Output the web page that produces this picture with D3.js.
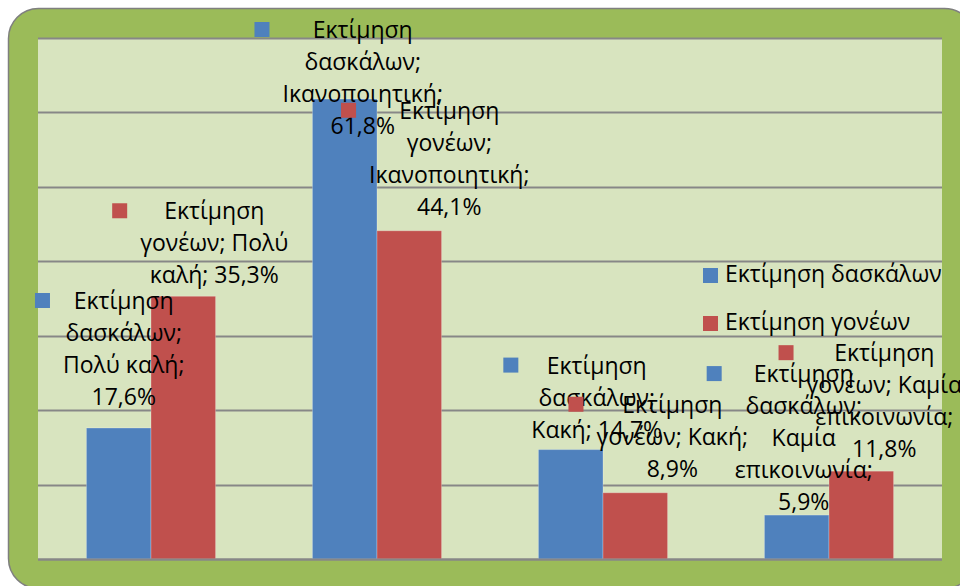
<!DOCTYPE html>
<html lang="el">
<head>
<meta charset="utf-8">
<script src="https://cdnjs.cloudflare.com/ajax/libs/d3/7.8.5/d3.min.js"></script>
<style>
  body { margin: 0; background: #fff; }
  svg text { font-family: "Open Sans", "DejaVu Sans", sans-serif; fill: #000; }
</style>
</head>
<body>
<svg width="960" height="586"></svg>
<script>
// data
var categories = ["Πολύ καλή", "Ικανοποιητική", "Κακή", "Καμία επικοινωνία"];
var seriesNames = ["Εκτίμηση δασκάλων", "Εκτίμηση γονέων"];
var teachers = [17.6, 61.8, 14.7, 5.9];
var parents = [35.3, 44.1, 8.9, 11.8];
var yTicks = [0, 10, 20, 30, 40, 50, 60, 70];

var colors = ["#4f81bd", "#c0504d"];

// label nudges (px), Excel had them dragged a bit
var labelDx = [[5, 18, 26, 7], [31, 40, 37, 23]];
var labelGap = [[23, 14, 12, 5], [13, 16, 16, 14]];

var svg = d3.select("svg");
var plot = { left: 38, top: 38, right: 942, bottom: 559 };
var lineH = 32;
var fs = 23;

// frame (runs a bit past the right/bottom edge of the page)
svg.append("rect")
    .attr("x", 8.5).attr("y", 8.5)
    .attr("width", 966).attr("height", 580)
    .attr("rx", 30).attr("ry", 30)
    .attr("fill", "#9bbb59")
    .attr("stroke", "#7f7f7f")
    .attr("stroke-width", 1.5);

svg.append("rect")
    .attr("x", plot.left).attr("y", plot.top)
    .attr("width", plot.right - plot.left).attr("height", plot.bottom - plot.top)
    .attr("fill", "#d8e4bf");

var x = d3.scaleBand().domain(categories).range([plot.left, plot.right]).padding(0);
var y = d3.scaleLinear().domain([0, 70]).range([plot.bottom, plot.top]);
var barW = x.bandwidth() / 3.5;

// gridlines
svg.append("g").selectAll("line")
    .data(yTicks)
    .join("line")
    .attr("x1", plot.left).attr("x2", plot.right)
    .attr("y1", function (d) { return Math.round(y(d)) + 0.5; })
    .attr("y2", function (d) { return Math.round(y(d)) + 0.5; })
    .attr("stroke", "#878787")
    .attr("stroke-width", 2);

var series = [teachers, parents];
var bars = [];
series.forEach(function (vals, s) {
    vals.forEach(function (v, i) {
        bars.push({ s: s, i: i, v: v, cat: categories[i] });
    });
});

function barX(d) {
    return x(d.cat) + x.bandwidth() / 2 - barW + d.s * barW;
}

svg.append("g").selectAll("rect")
    .data(bars)
    .join("rect")
    .attr("x", barX)
    .attr("y", function (d) { return y(d.v); })
    .attr("width", barW)
    .attr("height", function (d) { return y(0) - y(d.v); })
    .attr("fill", function (d) { return colors[d.s]; })
    .attr("stroke", "#ffffff")
    .attr("stroke-opacity", 0.25)
    .attr("stroke-width", 1);

// bottom axis line again over bars
svg.append("line")
    .attr("x1", plot.left).attr("x2", plot.right)
    .attr("y1", Math.round(y(0)) + 0.5).attr("y2", Math.round(y(0)) + 0.5)
    .attr("stroke", "#878787").attr("stroke-width", 2);

// data labels
var fmt = function (v) { return d3.format(".1f")(v).replace(".", ",") + "%"; };
var maxLine = 166;
var measure = svg.append("text").attr("font-size", fs).attr("visibility", "hidden");
function textW(str) { measure.text(str); return measure.node().getComputedTextLength(); }

function wrap(str) {
    var words = str.split(" "), lines = [], cur = "";
    words.forEach(function (w) {
        var t = cur ? cur + " " + w : w;
        if (cur && textW(t) > maxLine) { lines.push(cur); cur = w; }
        else cur = t;
    });
    lines.push(cur);
    return lines;
}

var labels = svg.append("g");
bars.forEach(function (d) {
    var lines = wrap(seriesNames[d.s] + "; " + d.cat + "; " + fmt(d.v));
    var cx = barX(d) + barW / 2 + labelDx[d.s][d.i];
    var last = y(d.v) - labelGap[d.s][d.i];
    var first = Math.max(38, last - (lines.length - 1) * lineH);
    var widest = d3.max(lines, textW);

    labels.append("rect")
        .attr("x", cx - widest / 2 - 28)
        .attr("y", first - 16)
        .attr("width", 15).attr("height", 15)
        .attr("fill", colors[d.s]);

    labels.append("text")
        .attr("font-size", fs)
        .attr("text-anchor", "middle")
        .selectAll("tspan")
        .data(lines)
        .join("tspan")
        .attr("x", cx)
        .attr("y", function (l, k) { return first + k * lineH; })
        .text(function (l) { return l; });
});

// legend
var legend = svg.append("g").attr("transform", "translate(703,268)");
seriesNames.forEach(function (name, s) {
    legend.append("rect")
        .attr("x", 0).attr("y", s * 48)
        .attr("width", 15).attr("height", 15)
        .attr("fill", colors[s]);
    legend.append("text")
        .attr("x", 22).attr("y", s * 48 + 14)
        .attr("font-size", fs)
        .text(name);
});
measure.remove();
</script>
</body>
</html>
